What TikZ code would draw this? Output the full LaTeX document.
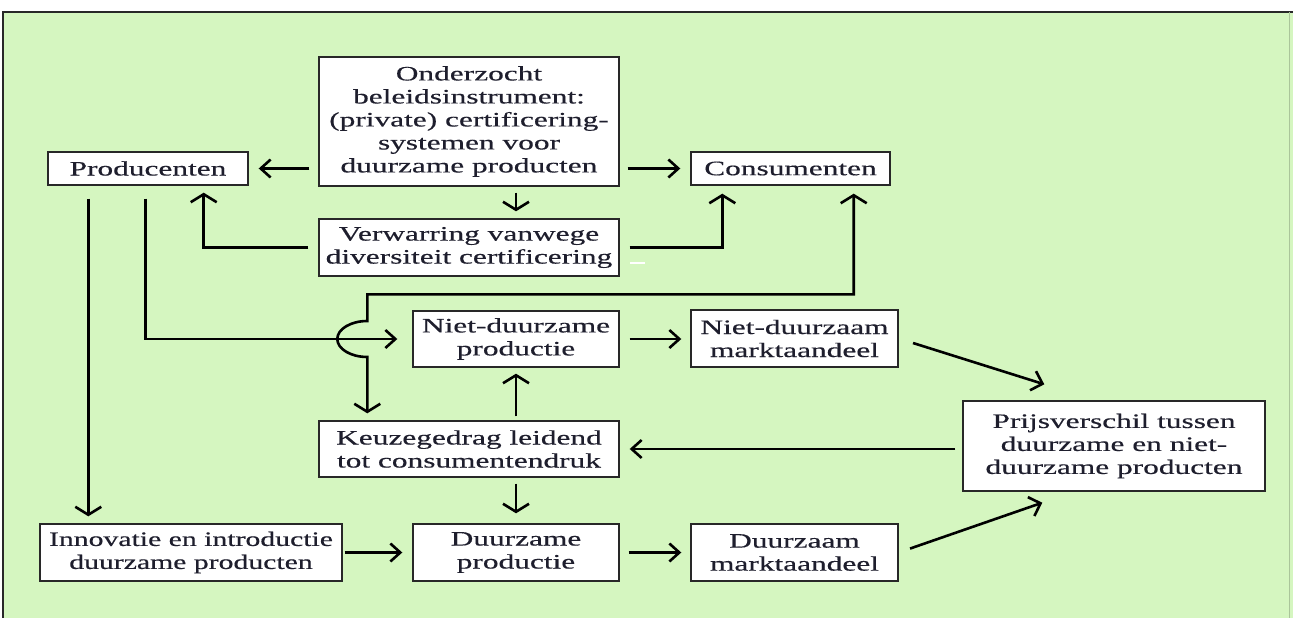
\documentclass[tikz,border=0pt]{standalone}
\usepackage{fontspec}
\setmainfont{Liberation Serif}[FakeStretch=1.53,FakeBold=0.4]
\newfontfamily\narrowserif{Liberation Serif}[FakeStretch=1.45,FakeBold=0.4]
\usetikzlibrary{arrows.meta,calc}
\definecolor{bggreen}{RGB}{213,246,192}
\definecolor{boxline}{RGB}{40,40,40}
\definecolor{txt}{RGB}{30,30,45}
\begin{document}
\begin{tikzpicture}[x=1pt,y=-1pt,
  box/.style={draw=boxline, line width=1.4pt, fill=white, inner sep=0pt, align=center, text=txt, font=\fontsize{20.5}{23}\selectfont},
  conn/.style={line width=2.6pt, draw=black},
  htip/.style={-{Straight Barb[length=10pt,width=18pt]}},
  vtip/.style={-{Straight Barb[length=8pt,width=26pt]}},
  dtip/.style={-{Straight Barb[length=10pt,width=20pt]}},
  bothv/.style={{Straight Barb[length=8pt,width=26pt]}-{Straight Barb[length=8pt,width=26pt]}}
]
\useasboundingbox (0,0) rectangle (1293,618);
\fill[white] (0,0) rectangle (1293,618);
\fill[bggreen] (3,12) rectangle (1293,618);
\draw[boxline, line width=1.2pt] (3,618) -- (3,12) -- (1293,12);
\draw[bggreen!80!black, line width=0.6pt] (1289,12) -- (1289,618);

% nodes
\node[box, minimum width=300pt, minimum height=129pt] (onder) at (469,121.5) {Onderzocht\\beleidsinstrument:\\(private) certificering-\\systemen voor\\duurzame producten};
\node[box, minimum width=200pt, minimum height=33pt] (prod) at (148,168.5) {Producenten};
\node[box, minimum width=199pt, minimum height=33pt] (cons) at (790.5,168.5) {Consumenten};
\node[box, minimum width=300pt, minimum height=57pt] (verw) at (469,247.5) {Verwarring vanwege\\diversiteit certificering};
\node[box, minimum width=206pt, minimum height=56pt] (nietprod) at (516,339) {Niet-duurzame\\productie};
\node[box, minimum width=207pt, minimum height=57pt] (nietmarkt) at (794.5,338.5) {Niet-duurzaam\\marktaandeel};
\node[box, minimum width=302pt, minimum height=90pt] (prijs) at (1114,446) {Prijsverschil tussen\\duurzame en niet-\\duurzame producten};
\node[box, minimum width=300pt, minimum height=56pt] (keuze) at (469,449) {Keuzegedrag leidend\\tot consumentendruk};
\node[box, minimum width=302pt, minimum height=57pt, font=\fontsize{20.5}{23}\narrowserif] (innov) at (191,552.5) {Innovatie en introductie\\duurzame producten};
\node[box, minimum width=206pt, minimum height=57pt] (duurprod) at (516,552.5) {Duurzame\\productie};
\node[box, minimum width=207pt, minimum height=57pt] (duurmarkt) at (794.5,552.5) {Duurzaam\\marktaandeel};

% connectors
\draw[conn,htip,shorten <=8pt,shorten >=10pt] (onder.east |- cons) -- (cons.west);
\draw[conn,htip,shorten <=9pt,shorten >=10pt] (onder.west |- prod) -- (prod.east);
\draw[conn,vtip,shorten <=6pt,shorten >=7pt] (onder.south -| nietprod) -- (verw.north -| nietprod);
\draw[conn,vtip,shorten <=10pt,shorten >=8pt] (verw.east) -| ($(cons.south west)+(32,0)$);
\draw[conn,vtip,shorten <=10pt,shorten >=7pt] (verw.west) -| ($(prod.south east)+(-45,0)$);

\coordinate (hopx) at ($(keuze.north west)+(49,0)$);
\coordinate (cbot) at ($(cons.south east)+(-37,0)$);
\draw[conn,bothv,shorten <=8pt,shorten >=7pt] (cbot) |- ($(hopx |- nietprod.north)+(0,-16)$) -- ($(hopx |- nietprod.west)+(0,-18)$) arc[start angle=90,end angle=270,x radius=30pt,y radius=18pt] -- (hopx);

\draw[conn,htip,shorten <=13pt,shorten >=15pt] ($(prod.south west)+(98,0)$) |- (nietprod.west);
\coordinate (pd) at ($(prod.south west)+(41,0)$);
\draw[conn,vtip,shorten <=13pt,shorten >=7pt] (pd) -- (pd |- innov.north);

\draw[conn,htip,shorten <=2pt,shorten >=10pt] (innov.east) -- (duurprod.west);
\draw[conn,htip,shorten <=9pt,shorten >=9pt] (duurprod.east) -- (duurmarkt.west);
\draw[conn,htip,shorten <=10pt,shorten >=9pt] (nietprod.east) -- (nietprod.east -| nietmarkt.west);
\draw[conn,vtip,shorten <=4pt,shorten >=6pt] (keuze.north -| nietprod) -- (nietprod.south);
\draw[conn,vtip,shorten <=6pt,shorten >=10pt] (keuze.south -| duurprod) -- (duurprod.north);
\draw[conn,htip,shorten <=7pt,shorten >=10pt] (prijs.west |- keuze.east) -- (keuze.east);

\coordinate (pt1) at ($(prijs.north west)+(82,-16)$);
\coordinate (pt2) at ($(prijs.south west)+(80,11)$);
\draw[conn,dtip,shorten <=15pt] (nietmarkt.east) -- (pt1);
\draw[conn,dtip,shorten <=12pt] (duurmarkt.east) -- (pt2);

\draw[white, line width=1.5pt] (630,263) -- (645,263);
\end{tikzpicture}
\end{document}
